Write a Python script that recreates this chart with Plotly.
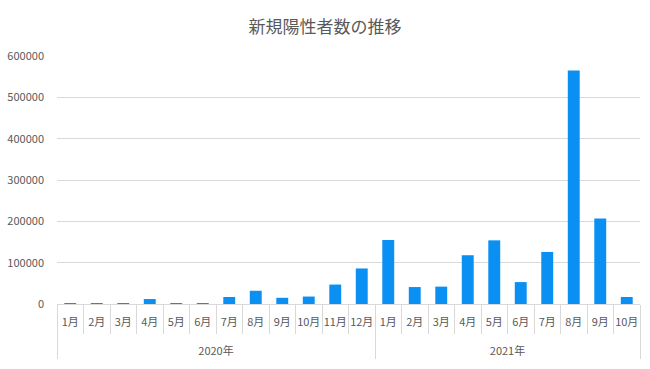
import plotly.graph_objects as go

years = ["2020年"] * 12 + ["2021年"] * 10
months = [f"{m}月" for m in range(1, 13)] + [f"{m}月" for m in range(1, 11)]
cases = [14, 216, 1800, 12000, 2400, 1700, 17000, 32000, 15000, 18000, 47000, 86000,
         155000, 41000, 42000, 118000, 154000, 53000, 126000, 565000, 207000, 17000]
y_ticks = [0, 100000, 200000, 300000, 400000, 500000, 600000]

font_family = "Noto Sans CJK JP"
gray = "#595959"
line_gray = "#d9d9d9"

# month labels carry a blank second line so the year row sits lower
month_labels = [m + "<br><span style='font-size:24px'> </span>" for m in months]

fig = go.Figure(go.Bar(
    x=[years, month_labels], y=cases,
    marker=dict(color="#0a90f2", line=dict(width=0)),
    width=0.45,
))

fig.update_layout(
    width=650, height=369,
    paper_bgcolor="white", plot_bgcolor="white",
    margin=dict(l=57, r=10, t=56, b=65, autoexpand=False),
    font=dict(family=font_family, color=gray, size=11),
    title=dict(text="新規陽性者数の推移", x=0.5, xanchor="center",
               yref="container", y=1 - 27 / 369, yanchor="middle",
               font=dict(size=17, color=gray, family=font_family)),
    showlegend=False,
)
fig.update_yaxes(
    range=[0, 600000], tickvals=y_ticks, ticktext=[str(v) for v in y_ticks],
    showgrid=True, gridcolor=line_gray, gridwidth=1, zeroline=False,
    showline=False, ticks="", ticklabelstandoff=12, automargin=False,
    tickfont=dict(size=11, color=gray),
)
fig.update_xaxes(
    type="multicategory", tickangle=0, automargin=False,
    showline=True, linecolor=line_gray, linewidth=1,
    ticks="outside", ticklen=29, tickcolor=line_gray, tickwidth=1,
    ticklabelstandoff=8,
    showdividers=True, dividercolor=line_gray, dividerwidth=1,
    tickfont=dict(size=11, color=gray),
    showgrid=False,
)
fig.write_html("out.html", post_script="document.body.style.margin='0';",
               config={"displayModeBar": False})
